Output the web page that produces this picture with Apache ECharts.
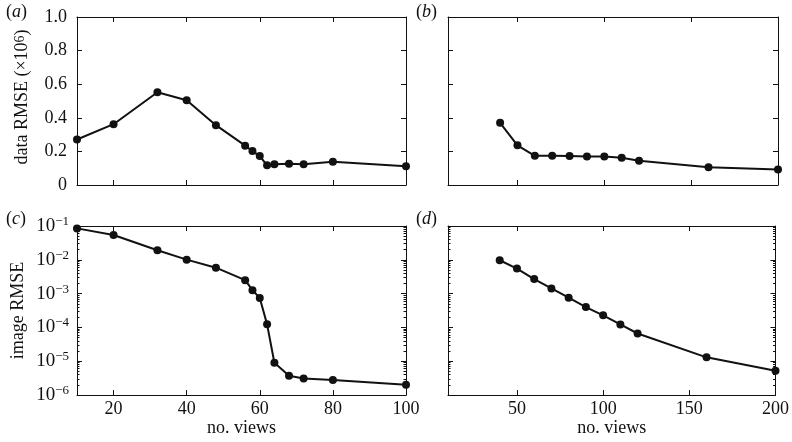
<!DOCTYPE html>
<html><head><meta charset="utf-8">
<script src="https://cdn.jsdelivr.net/npm/echarts@6/dist/echarts.min.js"></script>
<style>html,body{margin:0;padding:0;background:#fff}#c{width:792px;height:442px}</style>
</head><body><div id="c"></div>
<script>
// ---- data ----
const viewsLeft = [10, 20, 32, 40, 48, 56, 58, 60, 62, 64, 68, 72, 80, 100];
const dataRmseA = [0.271, 0.362, 0.552, 0.505, 0.356, 0.234, 0.202, 0.172, 0.117, 0.123, 0.127, 0.123, 0.139, 0.112];
const imageRmseC = [0.085, 0.054, 0.0192, 0.0101, 0.00585, 0.0025, 0.00126, 0.000746, 0.000123, 9.0e-6, 3.7e-6, 3.1e-6, 2.8e-6, 2.0e-6];
const viewsRight = [40, 50, 60, 70, 80, 90, 100, 110, 120, 160, 200];
const dataRmseB = [0.370, 0.236, 0.174, 0.174, 0.172, 0.170, 0.170, 0.162, 0.145, 0.105, 0.093];
const imageRmseD = [0.0097, 0.0055, 0.0027, 0.00142, 0.00076, 0.0004, 0.000227, 0.000122, 6.6e-5, 1.3e-5, 5.2e-6];
const xTicksLeft = [20, 40, 60, 80, 100];
const xTicksRight = [50, 100, 150, 200];
const logMinorTicks = [];
for (let k = -6; k <= -2; k++) for (let m = 2; m <= 9; m++) logMinorTicks.push(m * Math.pow(10, k));

const FONT = 'Liberation Serif';
const INK = '#111';
const chart = echarts.init(document.getElementById('c'), null, {renderer: 'canvas'});

const grids = [
  {left: 77, top: 17, width: 329, height: 168},
  {left: 448, top: 17, width: 330, height: 168},
  {left: 77, top: 226, width: 329, height: 169},
  {left: 448, top: 226, width: 330, height: 169}
];

const axisLine = {show: true, onZero: false, lineStyle: {color: INK, width: 1}};
const tick = (vals, len) => ({show: true, inside: true, length: len || 5, lineStyle: {color: INK, width: 1}, customValues: vals});
const labelStyle = {fontFamily: FONT, fontSize: 18, color: INK};

const xAxes = [], yAxes = [];
grids.forEach((g, i) => {
  const left = (i % 2 === 0);
  const bottomRow = i >= 2;
  const xmin = 10, xmax = left ? 100 : 200;
  const tv = left ? xTicksLeft : xTicksRight;
  xAxes.push({
    gridIndex: i, type: 'value', min: xmin, max: xmax, position: 'bottom',
    axisLine, axisTick: tick(tv), splitLine: {show: false},
    axisLabel: Object.assign({show: bottomRow, margin: 5, customValues: tv}, labelStyle),
    name: bottomRow ? 'no. views' : '', nameLocation: 'middle', nameGap: 22,
    nameTextStyle: {fontFamily: FONT, fontSize: 18, color: INK}
  });
  xAxes.push({
    gridIndex: i, type: 'value', min: xmin, max: xmax, position: 'top',
    axisLine, axisTick: tick(tv), splitLine: {show: false}, axisLabel: {show: false}
  });
  if (!bottomRow) {
    const base = {gridIndex: i, type: 'value', min: 0, max: 1, interval: 0.2, splitLine: {show: false}, axisLine,
      axisTick: {show: true, inside: true, length: 5, lineStyle: {color: INK, width: 1}}};
    yAxes.push(Object.assign({}, base, {
      position: 'left',
      axisLabel: Object.assign({show: left, margin: 10, formatter: v => v === 0 ? '0' : v.toFixed(1)}, labelStyle),
      name: left ? 'data RMSE (×10{s|6})' : '', nameLocation: 'middle', nameGap: 46,
      nameTextStyle: {fontFamily: FONT, fontSize: 18, color: INK, padding: [0, 0, 0, 8],
        rich: {s: {fontFamily: FONT, fontSize: 14, color: INK, verticalAlign: 'top', lineHeight: 13}}}
    }));
    yAxes.push(Object.assign({}, base, {position: 'right', axisLabel: {show: false}}));
  } else {
    const base = {gridIndex: i, type: 'log', logBase: 10, min: 1e-6, max: 1e-1, splitLine: {show: false}, axisLine,
      axisTick: {show: true, inside: true, length: 5, lineStyle: {color: INK, width: 1}}};
    yAxes.push(Object.assign({}, base, {
      position: 'left',
      axisLabel: {show: left, margin: 8,
        formatter: v => '{b|10}{s|\u2212' + (-Math.round(Math.log10(v))) + '}',
        rich: {b: {fontFamily: FONT, fontSize: 19, color: INK, lineHeight: 22},
               s: {fontFamily: FONT, fontSize: 13, color: INK, verticalAlign: 'top', lineHeight: 12}}},
      name: left ? 'image RMSE' : '', nameLocation: 'middle', nameGap: 50,
      nameTextStyle: {fontFamily: FONT, fontSize: 18, color: INK}
    }));
    yAxes.push(Object.assign({}, base, {position: 'right', axisLabel: {show: false}}));
    // minor log ticks
    ['left', 'right'].forEach(p => yAxes.push({
      gridIndex: i, type: 'log', logBase: 10, min: 1e-6, max: 1e-1, position: p,
      axisLine: {show: false}, splitLine: {show: false}, axisLabel: {show: false},
      axisTick: tick(logMinorTicks, 2.5)
    }));
  }
});

// map grid -> yAxis index of left axis
const yLeftIdx = [0, 2, 4, 8];
const mkSeries = (i, xs, ys) => ({
  type: 'line', xAxisIndex: 2 * i, yAxisIndex: yLeftIdx[i],
  data: xs.map((x, k) => [x, ys[k]]),
  symbol: 'circle', symbolSize: 8, clip: false,
  lineStyle: {color: INK, width: 2}, itemStyle: {color: INK}
});

const panelLabel = (ch, x, y) => ({
  type: 'text', left: x, top: y,
  style: {text: '(' + '{i|' + ch + '})', fontFamily: FONT, fontSize: 18, fill: INK,
    rich: {i: {fontFamily: FONT, fontSize: 18, fontStyle: 'italic', color: INK}}}
});

chart.setOption({
  animation: false,
  grid: grids,
  xAxis: xAxes,
  yAxis: yAxes,
  series: [
    mkSeries(0, viewsLeft, dataRmseA),
    mkSeries(1, viewsRight, dataRmseB),
    mkSeries(2, viewsLeft, imageRmseC),
    mkSeries(3, viewsRight, imageRmseD)
  ],
  graphic: [
    panelLabel('a', 6, 3), panelLabel('b', 416, 3),
    panelLabel('c', 6, 210), panelLabel('d', 416, 210)
  ]
});
</script></body></html>
